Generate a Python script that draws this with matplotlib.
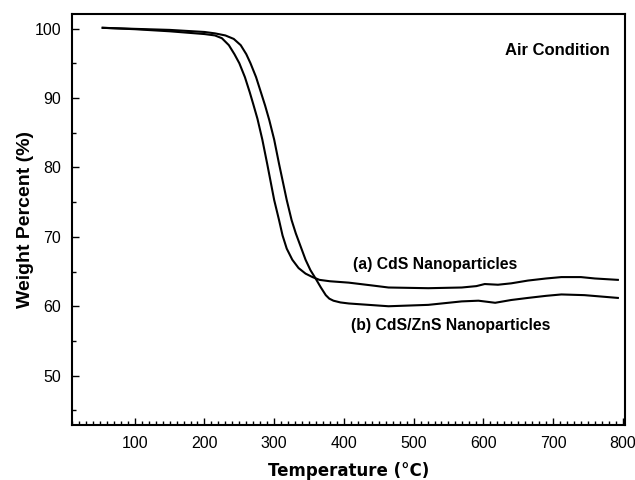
import numpy as np
import matplotlib
matplotlib.use("Agg")
import matplotlib.pyplot as plt
from matplotlib.ticker import MultipleLocator

# TGA curves (temperature in C, weight %)
temp_a = [54, 100, 150, 200, 215, 225, 235, 243, 250, 258, 265, 270, 276, 283,
          290, 300, 307, 312, 318, 326, 335, 345, 355, 365, 380, 407, 440, 464,
          521, 569, 590, 602, 621, 640, 664, 690, 712, 740, 760, 793]
wt_a = [100.1, 99.9, 99.6, 99.2, 99.0, 98.6, 97.6, 96.3, 95.0, 93.0, 90.8, 89.1,
        87.0, 84.0, 80.5, 75.3, 72.4, 70.2, 68.3, 66.7, 65.5, 64.7, 64.2, 63.8,
        63.6, 63.4, 63.0, 62.7, 62.6, 62.7, 62.9, 63.2, 63.1, 63.3, 63.7, 64.0,
        64.2, 64.2, 64.0, 63.8]

temp_b = [54, 100, 150, 200, 215, 230, 242, 252, 260, 266, 274, 281, 287, 293,
          300, 307, 318, 325, 331, 338, 345, 352, 360, 367, 374, 379, 385, 395,
          407, 464, 521, 569, 593, 617, 640, 664, 690, 712, 745, 793]
wt_b = [100.1, 99.95, 99.8, 99.5, 99.3, 99.0, 98.5, 97.6, 96.3, 95.0, 93.0,
        90.8, 88.9, 86.8, 84.0, 80.5, 75.3, 72.4, 70.5, 68.6, 66.7, 65.2, 63.9,
        62.7, 61.6, 61.1, 60.8, 60.55, 60.4, 60.0, 60.2, 60.7, 60.8, 60.5, 60.9,
        61.2, 61.5, 61.7, 61.6, 61.2]

label_a = "(a) CdS Nanoparticles"
label_b = "(b) CdS/ZnS Nanoparticles"

plt.rcParams['font.family'] = ['Liberation Sans', 'DejaVu Sans']

fig = plt.figure(figsize=(6.35, 4.8), dpi=100)
ax = fig.add_axes([0.1134, 0.1146, 0.8706, 0.8564])

ax.plot(temp_a, wt_a, color='black', lw=1.5)
ax.plot(temp_b, wt_b, color='black', lw=1.5)

ax.set_xlim(10, 803)
ax.set_ylim(42.9, 102.1)
ax.xaxis.set_minor_locator(MultipleLocator(10))
ax.yaxis.set_minor_locator(MultipleLocator(5))
ax.set_xticks(np.arange(100, 801, 100))
ax.set_yticks(np.arange(50, 101, 10))
ax.tick_params(which='both', direction='in', top=False, right=False,
               labelsize=11.5, width=1)
ax.tick_params(which='major', length=5, pad=8)
ax.tick_params(which='minor', length=3)
for s in ax.spines.values():
    s.set_linewidth(1.5)

ax.set_xlabel("Temperature (°C)", fontsize=12, fontweight='bold',
              family='DejaVu Sans', labelpad=8)
ax.set_ylabel("Weight Percent (%)", fontsize=14, fontweight='bold', labelpad=0)

ax.text(706, 96.9, "Air Condition", fontsize=12, fontweight='bold',
        ha='center', va='center')
ax.text(531, 66.0, label_a, fontsize=11.3, fontweight='bold', ha='center', va='center')
ax.text(553, 57.3, label_b, fontsize=11.3, fontweight='bold', ha='center', va='center')

fig.savefig("out.png", dpi=100)
